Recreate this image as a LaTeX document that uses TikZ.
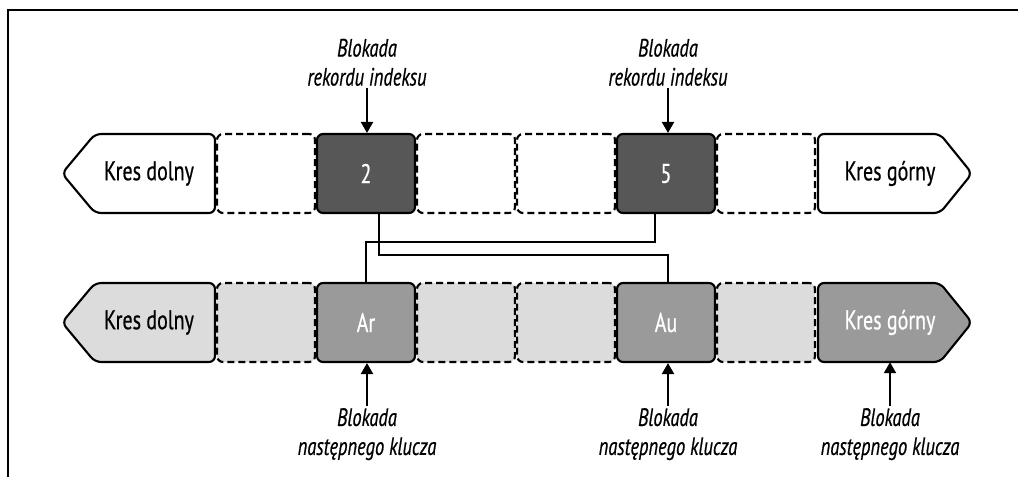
\documentclass[tikz,border=0pt]{standalone}
\usepackage{fontspec}
\setmainfont{PT Sans}[FakeStretch=0.74, FakeBold=0.6, BoldFont={PT Sans}, BoldItalicFont={PT Sans Italic}]
\usetikzlibrary{arrows.meta,calc}
\definecolor{lockdark}{HTML}{575757}
\definecolor{lockmid}{HTML}{9A9A9A}
\definecolor{gaplight}{HTML}{DCDCDC}
\begin{document}
\begin{tikzpicture}[x=1pt,y=-1pt,
  every node/.style={font=\fontsize{27}{30}\selectfont\bfseries},
  cell/.style={draw, line width=2.1pt, rounded corners=6pt,
    minimum width=98pt, minimum height=79pt, inner sep=0pt},
  gapcell/.style={cell, dash pattern=on 7pt off 4pt},
  bound/.style={draw, line width=2.1pt, rounded corners=6pt},
  boundtext/.style={minimum height=79pt, inner sep=0pt},
  lbl/.style={align=center, inner sep=2pt,
    font=\fontsize{25}{29}\selectfont\bfseries\itshape},
  lockarrow/.style={line width=2.1pt, -{Triangle[length=11pt,width=12pt]}},
  wire/.style={line width=2.1pt}]
\useasboundingbox (0,0) rectangle (1018,477);

% frame
\draw[line width=2.5pt] (8,477) -- (8,10) -- (1018,10);

% ---- index records (top row)
\draw[bound, fill=white] (215,134) -- (95,134) -- (62,173.5) -- (95,213) -- (215,213) -- cycle;
\node[boundtext] (kd1) at (149,173.5) {Kres dolny};
\node[gapcell, fill=white] (t1) at (266,173.5) {};
\node[cell, fill=lockdark, text=white] (n2) at (366,173.5) {2};
\node[gapcell, fill=white] (t3) at (466,173.5) {};
\node[gapcell, fill=white] (t4) at (566,173.5) {};
\node[cell, fill=lockdark, text=white] (n5) at (666,173.5) {5};
\node[gapcell, fill=white] (t6) at (766,173.5) {};
\draw[bound, fill=white] (818,134) -- (940,134) -- (972,173.5) -- (940,213) -- (818,213) -- cycle;
\node[boundtext] (kg1) at (890,173.5) {Kres górny};

% ---- keys (bottom row)
\draw[bound, fill=gaplight] (215,283) -- (95,283) -- (62,322.5) -- (95,362) -- (215,362) -- cycle;
\node[boundtext] (kd2) at (149,322.5) {Kres dolny};
\node[gapcell, fill=gaplight] (b1) at (266,322.5) {};
\node[cell, fill=lockmid, text=white] (ar) at (366,322.5) {Ar};
\node[gapcell, fill=gaplight] (b3) at (466,322.5) {};
\node[gapcell, fill=gaplight] (b4) at (566,322.5) {};
\node[cell, fill=lockmid, text=white] (au) at (666,322.5) {Au};
\node[gapcell, fill=gaplight] (b6) at (766,322.5) {};
\draw[bound, fill=lockmid] (818,283) -- (940,283) -- (972,322.5) -- (940,362) -- (818,362) -- cycle;
\node[boundtext, text=white] (kg2) at (890,322.5) {Kres górny};

% ---- record-to-key links
\coordinate (busA) at (0,255);
\coordinate (busB) at (0,242);
\draw[wire] ([xshift=13pt]n2.south) |- ([xshift=2pt]au.north |- busA) -- ([xshift=2pt]au.north);
\draw[wire] ([xshift=-11pt]n5.south) |- (ar.north |- busB) -- (ar.north);

% ---- lock labels
\node[lbl, anchor=south] (l2) at (367,88) {Blokada\\rekordu indeksu};
\node[lbl, anchor=south] (l5) at (668,88) {Blokada\\rekordu indeksu};
\draw[lockarrow] (l2.south) -- (l2.south |- n2.north);
\draw[lockarrow] (l5.south) -- (l5.south |- n5.north);

\node[lbl, anchor=north] (lar) at (367,406) {Blokada\\następnego klucza};
\node[lbl, anchor=north] (lau) at (668,406) {Blokada\\następnego klucza};
\node[lbl, anchor=north] (lkg) at (890,406) {Blokada\\następnego klucza};
\draw[lockarrow] (lar.north) -- (lar.north |- ar.south);
\draw[lockarrow] (lau.north) -- (lau.north |- au.south);
\draw[lockarrow] (lkg.north) -- (kg2.south);
\end{tikzpicture}
\end{document}
